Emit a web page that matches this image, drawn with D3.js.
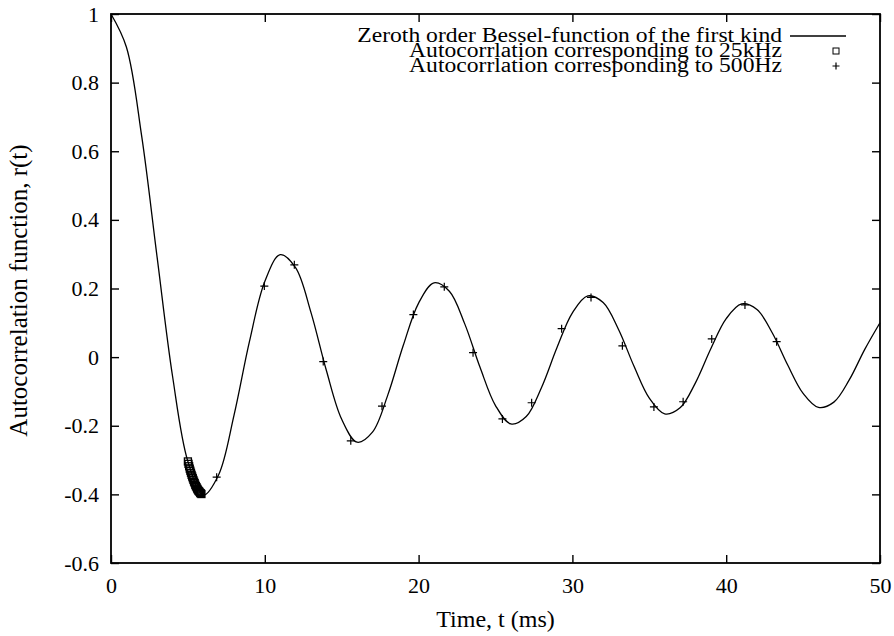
<!DOCTYPE html>
<html>
<head>
<meta charset="utf-8">
<script src="https://cdn.jsdelivr.net/npm/d3@7"></script>
<style>
  body { margin: 0; background: #fff; }
  svg text { font-family: "Liberation Serif", "Times New Roman", serif; fill: #000; }
</style>
</head>
<body>
<div id="chart"></div>
<script>
// Autocorrelation r(t) - Bessel curve with two sampled series

// Zeroth order Bessel curve, read every 1 ms
const besselT = [0, 1, 2, 3, 4, 5, 6, 7, 8, 9, 10, 11, 12, 13, 14, 15, 16, 17, 18, 19, 20,
  21, 22, 23, 24, 25, 26, 27, 28, 29, 30, 31, 32, 33, 34, 35, 36, 37, 38, 39, 40,
  41, 42, 43, 44, 45, 46, 47, 48, 49, 50];
const besselR = [1, 0.9037, 0.6425, 0.2906, -0.0550, -0.3042, -0.4020, -0.3426, -0.1689, 0.0452,
  0.2203, 0.2985, 0.2607, 0.1304, -0.0383, -0.1812, -0.2479, -0.2187, -0.1101, 0.0337,
  0.1575, 0.2165, 0.1920, 0.0969, -0.0304, -0.1412, -0.1947, -0.1732, -0.0875, 0.0280,
  0.1291, 0.1783, 0.1590, 0.0805, -0.0260, -0.1196, -0.1655, -0.1478, -0.0749, 0.0244,
  0.1120, 0.1551, 0.1387, 0.0703, -0.0231, -0.1056, -0.1465, -0.1311, -0.0665, 0.0219, 0.1003];

// 25kHz samples (dense cluster near the first minimum)
const sq25kT = [5.00, 5.04, 5.08, 5.12, 5.16, 5.20, 5.24, 5.28, 5.32, 5.36, 5.40, 5.44,
  5.48, 5.52, 5.56, 5.60, 5.64, 5.68, 5.72, 5.76, 5.80, 5.84, 5.88];
const sq25kR = [-0.304, -0.311, -0.318, -0.325, -0.331, -0.337, -0.343, -0.348, -0.353, -0.358,
  -0.363, -0.367, -0.372, -0.376, -0.379, -0.383, -0.386, -0.389, -0.391, -0.393, -0.396, -0.397, -0.399];

// 500Hz samples
const plus500T = [6.87, 9.97, 11.92, 13.80, 15.59, 17.62, 19.66, 21.67, 23.54, 25.45,
  27.35, 29.30, 31.21, 33.25, 35.30, 37.20, 39.06, 41.22, 43.28];
const plus500R = [-0.350, 0.207, 0.269, -0.013, -0.244, -0.143, 0.124, 0.205, 0.013, -0.180,
  -0.133, 0.083, 0.174, 0.033, -0.145, -0.130, 0.053, 0.152, 0.045];

const xTicks = [0, 10, 20, 30, 40, 50];
const yTicks = [-0.6, -0.4, -0.2, 0, 0.2, 0.4, 0.6, 0.8, 1];

const legendLabels = [
  "Zeroth order Bessel-function of the first kind",
  "Autocorrlation corresponding to 25kHz",
  "Autocorrlation corresponding to 500Hz"
];

const width = 894;
const height = 636;
const plot = { left: 111, right: 880, top: 14, bottom: 563 };
const serif = '"Liberation Serif", "Times New Roman", serif';

const svg = d3.select("#chart")
  .append("svg")
  .attr("width", width)
  .attr("height", height);

const x = d3.scaleLinear().domain([0, 50]).range([plot.left, plot.right]);
const y = d3.scaleLinear().domain([-0.6, 1]).range([plot.bottom, plot.top]);

const fmt = d => String(+d.toFixed(1));

// axes with inward ticks on all four sides
const xAxis = svg.append("g")
  .attr("transform", `translate(0,${plot.bottom})`)
  .call(d3.axisBottom(x).tickValues(xTicks).tickSizeInner(-8).tickSizeOuter(0).tickPadding(14).tickFormat(fmt));
const yAxis = svg.append("g")
  .attr("transform", `translate(${plot.left},0)`)
  .call(d3.axisLeft(y).tickValues(yTicks).tickSizeInner(-8).tickSizeOuter(0).tickPadding(12).tickFormat(fmt));
const xTop = svg.append("g")
  .attr("transform", `translate(0,${plot.top})`)
  .call(d3.axisTop(x).tickValues(xTicks).tickSizeInner(-8).tickSizeOuter(0).tickFormat(""));
const yRight = svg.append("g")
  .attr("transform", `translate(${plot.right},0)`)
  .call(d3.axisRight(y).tickValues(yTicks).tickSizeInner(-8).tickSizeOuter(0).tickFormat(""));

[xAxis, yAxis, xTop, yRight].forEach(g => {
  g.attr("font-family", serif).attr("font-size", 22);
  g.select(".domain").remove();
  g.selectAll(".tick line").attr("stroke", "#000").attr("stroke-width", 1.4);
  g.selectAll(".tick text")
    .attr("font-family", serif)
    .style("font-family", serif)
    .style("font-size", "22px");
});

svg.append("rect")
  .attr("x", plot.left)
  .attr("y", plot.top)
  .attr("width", plot.right - plot.left)
  .attr("height", plot.bottom - plot.top)
  .attr("fill", "none")
  .attr("stroke", "#000")
  .attr("stroke-width", 1.8);

// Bessel curve
const line = d3.line()
  .x((d, i) => x(besselT[i]))
  .y(d => y(d))
  .curve(d3.curveCatmullRom.alpha(0.5));

svg.append("path")
  .datum(besselR)
  .attr("fill", "none")
  .attr("stroke", "#000")
  .attr("stroke-width", 1.3)
  .attr("d", line);

// 25kHz squares
const sq = 7;
svg.selectAll(".sq25k")
  .data(sq25kR)
  .join("rect")
  .attr("class", "sq25k")
  .attr("x", (d, i) => x(sq25kT[i]) - sq / 2)
  .attr("y", d => y(d) - sq / 2)
  .attr("width", sq)
  .attr("height", sq)
  .attr("fill", "none")
  .attr("stroke", "#000")
  .attr("stroke-width", 1.3);

// 500Hz pluses
const plusPath = "M-4,0H4M0,-4V4";
svg.selectAll(".plus500")
  .data(plus500R)
  .join("path")
  .attr("class", "plus500")
  .attr("transform", (d, i) => `translate(${x(plus500T[i])},${y(d)})`)
  .attr("d", plusPath)
  .attr("stroke", "#000")
  .attr("stroke-width", 1.2);

// axis titles
svg.append("text")
  .attr("x", (plot.left + plot.right) / 2)
  .attr("y", 627)
  .attr("text-anchor", "middle")
  .style("font-size", "24px")
  .text("Time, t (ms)");

svg.append("text")
  .attr("transform", `translate(27,${(plot.top + plot.bottom) / 2 + 2}) rotate(-90)`)
  .attr("text-anchor", "middle")
  .style("font-size", "25px")
  .text("Autocorrelation function, r(t)");

// legend (scanned lettering is a bit wider than it is tall)
const legend = svg.append("g");
const rowY = [42, 57, 72];
legend.selectAll("text")
  .data(legendLabels)
  .join("text")
  .attr("x", 782)
  .attr("y", (d, i) => rowY[i])
  .attr("text-anchor", "end")
  .style("font-size", "20px")
  .text(d => d)
  .each(function () {
    const len = this.getComputedTextLength();
    d3.select(this).attr("textLength", len * 1.18).attr("lengthAdjust", "spacingAndGlyphs");
  });

legend.append("line")
  .attr("x1", 790).attr("x2", 846)
  .attr("y1", rowY[0] - 6).attr("y2", rowY[0] - 6)
  .attr("stroke", "#000")
  .attr("stroke-width", 1.3);

legend.append("rect")
  .attr("x", 836 - 3).attr("y", rowY[1] - 9)
  .attr("width", 6).attr("height", 6)
  .attr("fill", "none")
  .attr("stroke", "#000")
  .attr("stroke-width", 1);

legend.append("path")
  .attr("transform", `translate(836,${rowY[2] - 6})`)
  .attr("d", "M-3.5,0H3.5M0,-3.5V3.5")
  .attr("stroke", "#000")
  .attr("stroke-width", 1.2);
</script>
</body>
</html>
